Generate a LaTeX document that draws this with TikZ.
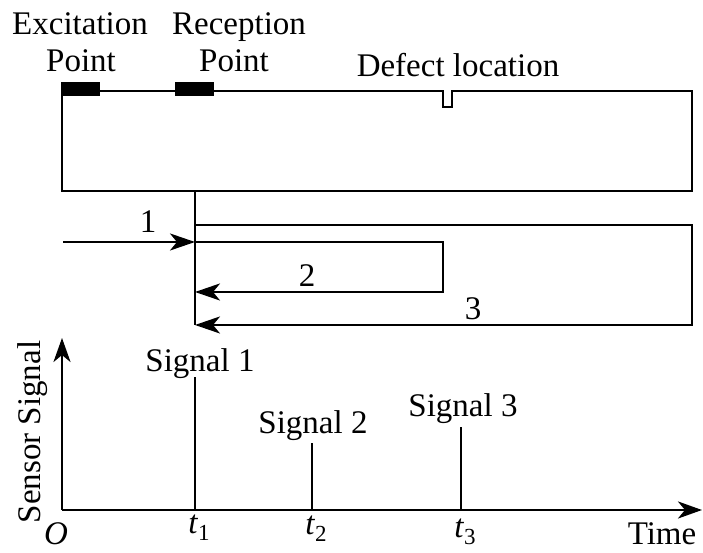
\documentclass[tikz,border=0pt]{standalone}
\usepackage{fontspec}
\setmainfont{Liberation Serif}
\usetikzlibrary{arrows.meta}
\tikzset{
  line/.style={line width=2.8pt, line join=miter},
  wave/.style={line, -{Stealth[length=25pt,width=17pt,inset=7pt]}},
  axis/.style={line, -{Stealth[length=24pt,width=17pt,inset=7pt]}},
  lbl/.style={inner sep=0pt, anchor=base, font=\fontsize{33}{39}\selectfont},
  sensor/.style={fill=black, draw=none}
}
\newcommand{\tsub}[1]{\textit{t}\raisebox{-7pt}{\fontsize{23}{23}\selectfont #1}}
\begin{document}
\begin{tikzpicture}[x=1pt,y=1pt]
\useasboundingbox (0,0) rectangle (703,553);
\fill[white] (0,0) rectangle (703,553);

% specimen bar with the defect notch
\coordinate (bl) at (62,362);
\coordinate (tl) at (62,462);
\coordinate (tr) at (692,462);
\coordinate (br) at (692,362);
\draw[line] (bl) -- (tl) -- (443,462) -- (443,446) -- (452,446) -- (452,462) -- (tr) -- (br) -- cycle;

% transducers
\fill[sensor] (61,457) rectangle (100,471);
\fill[sensor] (175,457) rectangle (214,471);

% labels of the bar
\node[lbl] (exc1) at (80,518) {Excitation};
\node[lbl] (exc2) at (81,481) {Point};
\node[lbl] (rec1) at (239,518) {Reception};
\node[lbl] (rec2) at (234,481) {Point};
\node[lbl] (def) at (458,476) {Defect location};

% wave paths
\coordinate (rtop) at (195,362);
\coordinate (rbot) at (195,228);
\draw[line] (rtop) -- (rbot);

\coordinate (in) at (63,311);
\coordinate (p1) at (195,311);
\draw[wave] (in) -- (p1);
\node[lbl] (w1) at (148,320) {1};

\coordinate (d1) at (443,311);
\coordinate (d2) at (443,261);
\coordinate (p2) at (195,261);
\draw[wave] (p1) -- (d1) -- (d2) -- (p2);
\node[lbl] (w2) at (307,266) {2};

\coordinate (o0) at (195,328);
\coordinate (o1) at (692,328);
\coordinate (o2) at (692,228);
\draw[wave] (o0) -- (o1) -- (o2) -- (rbot);
\node[lbl] (w3) at (473,233) {3};

% signal axes
\coordinate (origin) at (62,43);
\coordinate (ytip) at (62,215);
\coordinate (xtip) at (702,43);
\draw[axis] (origin) -- (ytip);
\draw[axis] (origin) -- (xtip);
\node[lbl, rotate=90] (ylab) at (40,121) {Sensor Signal};
\node[lbl] (xlab) at (662,8) {Time};
\node[lbl] (olab) at (56,8) {\textit{O}};

% echoes
\coordinate (s1b) at (195,43);
\coordinate (s1t) at (195,176);
\coordinate (s2b) at (312,43);
\coordinate (s2t) at (312,110);
\coordinate (s3b) at (461,43);
\coordinate (s3t) at (461,126);
\draw[line] (s1b) -- (s1t);
\draw[line] (s2b) -- (s2t);
\draw[line] (s3b) -- (s3t);
\node[lbl] (sig1) at (200,181) {Signal 1};
\node[lbl] (sig2) at (313,119) {Signal 2};
\node[lbl] (sig3) at (463,136) {Signal 3};

\node[lbl] (t1) at (199,19) {\tsub{1}};
\node[lbl] (t2) at (316,18) {\tsub{2}};
\node[lbl] (t3) at (465,15) {\tsub{3}};
\end{tikzpicture}
\end{document}
